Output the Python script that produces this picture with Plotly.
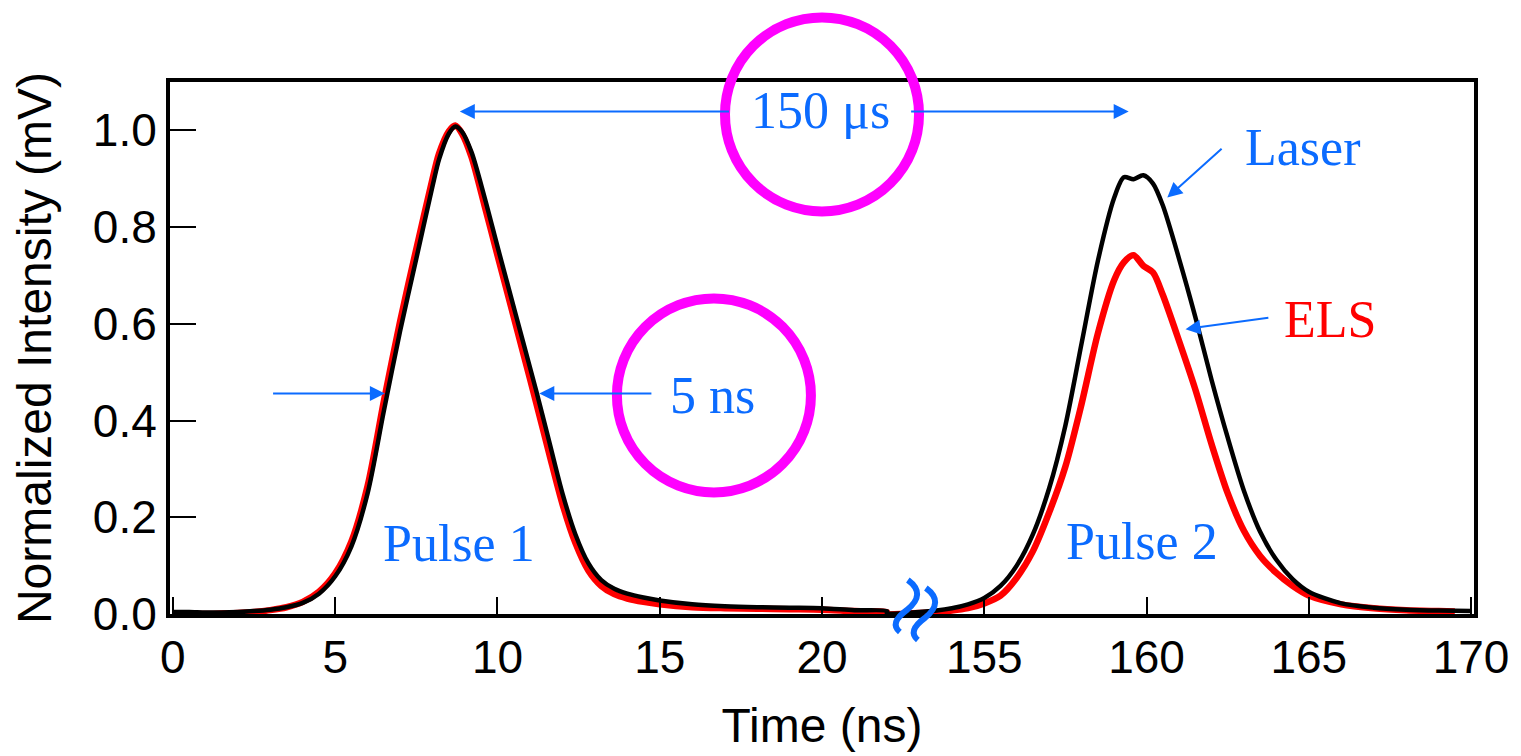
import plotly.graph_objects as go

# ---------------- data ----------------
# Pulse 1 (time in ns)
pulse1_time = [0, 0.5, 1, 1.5, 2, 2.5, 3, 3.5, 4, 4.5, 5, 5.5, 6, 6.5, 7, 7.5, 8, 8.2, 8.5, 8.7,
               8.9, 9.2, 9.6, 10.0, 10.4, 10.8, 11.2, 11.6, 12.0, 12.4, 12.8, 13.2, 13.6, 14, 14.5,
               15, 16, 17, 18, 19, 20, 21, 22]
pulse1_laser = [0.004, 0.004, 0.003, 0.003, 0.004, 0.006, 0.009, 0.014, 0.023, 0.042, 0.078,
                0.14, 0.25, 0.42, 0.585, 0.735, 0.885, 0.94, 0.993, 1.008,
                0.998, 0.955, 0.862, 0.76, 0.66, 0.56, 0.46, 0.355, 0.25, 0.165, 0.105, 0.07,
                0.052, 0.042, 0.034, 0.028, 0.02, 0.016, 0.014, 0.013, 0.012, 0.008, 0.006]
pulse1_els = [0.001, 0.0, 0.0, 0.001, 0.002, 0.004, 0.008, 0.014, 0.025, 0.046, 0.084,
              0.15, 0.265, 0.44, 0.605, 0.755, 0.90, 0.952, 0.998, 1.01,
              0.994, 0.945, 0.845, 0.742, 0.64, 0.538, 0.435, 0.33, 0.228, 0.147, 0.09, 0.058,
              0.041, 0.032, 0.025, 0.02, 0.014, 0.012, 0.011, 0.010, 0.009, 0.006, 0.004]

# Pulse 2 (time in ns, after the 150 us delay shown by the axis break)
pulse2_time_laser = [152, 153, 154, 154.5, 155, 155.5, 156, 156.5, 157, 157.5, 158, 158.5,
                     159, 159.3, 159.6, 159.9, 160.2, 160.5, 161, 161.5, 162, 162.5, 163,
                     163.5, 164, 164.5, 165, 166, 167, 168, 169, 170]
pulse2_laser = [0.002, 0.004, 0.012, 0.02, 0.033, 0.058, 0.10, 0.165, 0.26, 0.39, 0.56, 0.73,
                0.86, 0.903, 0.899, 0.907, 0.89, 0.845, 0.735, 0.615, 0.485, 0.365, 0.255,
                0.17, 0.112, 0.072, 0.046, 0.022, 0.013, 0.009, 0.007, 0.006]
pulse2_time_els = [152, 153, 154, 154.5, 155, 155.5, 156, 156.5, 157, 157.5, 158, 158.5,
                   159, 159.3, 159.6, 159.9, 160.2, 160.5, 161, 161.5, 162, 162.5, 163,
                   163.5, 164, 164.5, 165, 166, 167, 168, 169, 169.5]
pulse2_els = [0.001, 0.002, 0.007, 0.012, 0.022, 0.038, 0.075, 0.13, 0.21, 0.305, 0.435, 0.58,
              0.69, 0.727, 0.742, 0.72, 0.706, 0.66, 0.565, 0.465, 0.352, 0.25, 0.172,
              0.12, 0.085, 0.058, 0.038, 0.02, 0.012, 0.008, 0.006, 0.005]

tick_times = [0, 5, 10, 15, 20, 155, 160, 165, 170]
y_ticks = [0.0, 0.2, 0.4, 0.6, 0.8, 1.0]

# axis break: times after the break are shifted left by this amount
BREAK_SHIFT = 130


def disp(t):
    return t - BREAK_SHIFT if t > 100 else t


X_RANGE = [-0.09, 40.09]
Y_RANGE = [0.0, 1.1]


def px(x):
    return (x - X_RANGE[0]) / (X_RANGE[1] - X_RANGE[0])


def py(y):
    return (y - Y_RANGE[0]) / (Y_RANGE[1] - Y_RANGE[0])


laser_x = [disp(t) for t in pulse1_time] + [disp(t) for t in pulse2_time_laser]
laser_y = pulse1_laser + pulse2_laser
els_x = [disp(t) for t in pulse1_time] + [disp(t) for t in pulse2_time_els]
els_y = pulse1_els + pulse2_els

BLUE = "#0B6BFF"
RED = "#FF0000"
MAGENTA = "#FF00FF"
SERIF = "Liberation Serif, Times New Roman, serif"
SANS = "Liberation Sans, Arial, sans-serif"

fig = go.Figure()
fig.add_trace(go.Scatter(x=els_x, y=els_y, mode="lines", name="ELS",
                         line=dict(color=RED, width=6.5, shape="spline", smoothing=0.8),
                         hoverinfo="skip", showlegend=False))
fig.add_trace(go.Scatter(x=laser_x, y=laser_y, mode="lines", name="Laser",
                         line=dict(color="black", width=4.5, shape="spline", smoothing=0.8),
                         hoverinfo="skip", showlegend=False))

fig.update_layout(
    width=1513, height=748,
    margin=dict(l=162, r=41, t=74, b=136),
    paper_bgcolor="white", plot_bgcolor="white",
    font=dict(family=SANS, size=46, color="black"),
    xaxis=dict(range=X_RANGE, tickvals=[disp(t) for t in tick_times],
               ticktext=[str(t) for t in tick_times],
               ticks="inside", ticklen=17, tickwidth=2, tickcolor="black",
               showline=True, linecolor="black", linewidth=3.5, mirror=True,
               showgrid=False, zeroline=False,
               tickfont=dict(family=SANS, size=46, color="black"),
               title=dict(text="Time (ns)", font=dict(family=SANS, size=48, color="black"),
                          standoff=27)),
    yaxis=dict(range=Y_RANGE, tickvals=y_ticks, tickformat=".1f",
               ticks="inside", ticklen=26, tickwidth=2, tickcolor="black",
               showline=True, linecolor="black", linewidth=4, mirror=True,
               showgrid=False, zeroline=False,
               tickfont=dict(family=SANS, size=46, color="black"),
               title=dict(text="Normalized Intensity (mV)",
                          font=dict(family=SANS, size=48, color="black"), standoff=32)),
)

# text labels
texts = [
    ("150 μs", 19.95, 1.042, BLUE),
    ("5 ns", 16.63, 0.452, BLUE),
    ("Pulse 1", 8.8, 0.145, BLUE),
    ("Pulse 2", 29.85, 0.149, BLUE),
    ("Laser", 34.8, 0.965, BLUE),
    ("ELS", 35.65, 0.609, RED),
]
for txt, x, y, c in texts:
    fig.add_annotation(x=x, y=y, xref="x", yref="y", text=txt, showarrow=False,
                       font=dict(family=SERIF, size=52, color=c),
                       xanchor="center", yanchor="middle")

# arrows: (head x, head y, tail x, tail y)
arrows = [
    (8.84, 1.039, 17.18, 1.039),
    (29.45, 1.039, 22.7, 1.039),
    (6.53, 0.456, 3.04, 0.456),
    (11.29, 0.456, 14.79, 0.456),
    (30.64, 0.861, 32.36, 0.965),
    (31.2, 0.589, 33.8, 0.613),
]
for hx, hy, tx, ty in arrows:
    fig.add_annotation(x=hx, y=hy, ax=tx, ay=ty, xref="x", yref="y", axref="x", ayref="y",
                       text="", showarrow=True, arrowhead=2, arrowsize=1.5, arrowwidth=2,
                       arrowcolor=BLUE, standoff=0, startstandoff=0)

# highlight circles (pixel sized, anchored to data positions)
for cx, cy in [(20.0, 1.033), (16.67, 0.452)]:
    fig.add_shape(type="circle", xref="paper", yref="paper",
                  xsizemode="pixel", ysizemode="pixel",
                  xanchor=px(cx), yanchor=py(cy),
                  x0=-97, x1=97, y0=-97, y1=97,
                  line=dict(color=MAGENTA, width=10), layer="above")

# axis-break symbol
bx, by = 22.8, 0.0
for dx, dy in [(0, 0), (18, -8)]:
    path = (f"M {-5+dx},{34+dy} Q {14+dx},{20+dy} {-6+dx},{4+dy} "
            f"Q {-24+dx},{-9+dy} {-13+dx},{-18+dy}")
    fig.add_shape(type="path", xref="paper", yref="paper",
                  xsizemode="pixel", ysizemode="pixel",
                  xanchor=px(bx), yanchor=py(by), path=path,
                  line=dict(color=BLUE, width=6), layer="above")

fig.write_html("out.html")
